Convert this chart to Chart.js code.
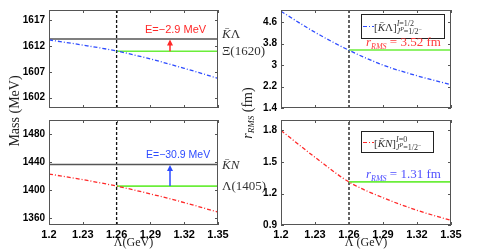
<!DOCTYPE html>
<html>
<head>
<meta charset="utf-8">
<script src="https://cdn.jsdelivr.net/npm/chart.js@4.4.0/dist/chart.umd.min.js"></script>
<style>
  body { margin: 0; background: #fff; width: 485px; height: 250px; overflow: hidden; position: relative; }
  canvas { position: absolute; }
  .ytitle { position: absolute; height: 16px; line-height: 16px; text-align: center; white-space: nowrap;
            transform: rotate(-90deg); font-family: "Liberation Serif", serif; font-size: 14px; color: #222; }
  .ytitle sub { font-size: 9px; vertical-align: -2px; }
</style>
</head>
<body>
<canvas id="tl" width="275" height="118" style="left:0;top:0"></canvas>
<canvas id="bl" width="275" height="140" style="left:0;top:110px"></canvas>
<canvas id="tr" width="245" height="118" style="left:240px;top:0"></canvas>
<canvas id="br" width="245" height="140" style="left:240px;top:110px"></canvas>
<div class="ytitle" style="left:-35px;top:103px;width:100px">Mass (MeV)</div>
<div class="ytitle" style="left:198px;top:105px;width:100px"><i>r</i><sub><i>RMS</i></sub> (fm)</div>
<script>
const cutoffs = [1.2, 1.23, 1.26, 1.29, 1.32, 1.35];
const xTicks = [1.2, 1.23, 1.26, 1.29, 1.32, 1.35];

// masses (MeV)
const massXi = [1613.2, 1612.2, 1611.05, 1609.5, 1607.7, 1605.75];
const massLam = [1422.8, 1414.8, 1405.6, 1394.4, 1382.0, 1368.4];
// rms radii (fm)
const rmsXi = [5.0, 4.22, 3.55, 3.0, 2.6, 2.27];
const rmsLam = [1.8, 1.545, 1.31, 1.16, 1.04, 0.944];

const ticksMassXi = [1602, 1607, 1612, 1617];
const ticksMassLam = [1360, 1400, 1440, 1480];
const ticksRmsXi = [1.4, 2.2, 3, 3.8, 4.6];
const ticksRmsLam = [0.9, 1.2, 1.5, 1.8];

const chosenCutoff = 1.26;
const thrKLambda = 1613.4, boundXi = 1611.0;
const thrKN = 1436.3, boundLam = 1405.6;
const rBoundXi = 3.56, rBoundLam = 1.31;

const BLUE = 'rgb(45,75,255)', RED = 'rgb(255,40,40)', GREEN = '#6bee3a', GRAY = '#555';
const SERIF = '"Liberation Serif", serif';
const DASHDOT = [4, 2, 1, 2];

function pairs(xs, ys) { return xs.map((x, i) => ({ x, y: ys[i] })); }
function line(data, color, width, dash, smooth) {
  return { data, borderColor: color, borderWidth: width, borderDash: dash || [], pointRadius: 0,
           fill: false, tension: smooth ? 0.4 : 0, cubicInterpolationMode: smooth ? 'monotone' : 'default' };
}

// draws pieces [text, italic, size, dy] one after another
function pieces(ctx, x, y, list) {
  list.forEach(([t, it, size, dy]) => {
    ctx.font = (it ? 'italic ' : '') + size + 'px ' + SERIF;
    ctx.fillText(t, x, y + (dy || 0));
    x += ctx.measureText(t).width;
  });
  return x;
}

function arrow(ctx, x, yFrom, yTo, color) {
  ctx.save();
  ctx.strokeStyle = color; ctx.fillStyle = color; ctx.lineWidth = 1.5;
  ctx.beginPath(); ctx.moveTo(x, yFrom); ctx.lineTo(x, yTo + 5); ctx.stroke();
  ctx.beginPath(); ctx.moveTo(x, yTo + 0.5); ctx.lineTo(x - 3, yTo + 6.5); ctx.lineTo(x + 3, yTo + 6.5);
  ctx.closePath(); ctx.fill();
  ctx.restore();
}

function legendBox(ctx, bx, by, bw, bh, color, main, sup) {
  ctx.save();
  ctx.fillStyle = '#fff'; ctx.fillRect(bx, by, bw, bh);
  ctx.strokeStyle = '#222'; ctx.lineWidth = 1; ctx.strokeRect(bx + 0.5, by + 0.5, bw, bh);
  const cy = Math.round(by + bh / 2) + 0.5;
  ctx.strokeStyle = color; ctx.lineWidth = 1.2; ctx.setLineDash(DASHDOT);
  ctx.beginPath(); ctx.moveTo(bx + 2, cy); ctx.lineTo(bx + 13, cy); ctx.stroke();
  ctx.setLineDash([]);
  ctx.fillStyle = '#333'; ctx.textBaseline = 'alphabetic';
  const base = cy + 4;
  const x0 = pieces(ctx, bx + 13, base, main);
  pieces(ctx, x0, base - 5, sup);
  pieces(ctx, x0, base + 3, [['J', true, 8], ['P', true, 6, -3], ['=1/2', false, 8], ['\u2212', false, 6, -3]]);
  ctx.restore();
}

function rmsText(ctx, x, base, color, value) {
  ctx.save();
  ctx.fillStyle = color; ctx.textBaseline = 'alphabetic';
  pieces(ctx, x, base, [['r', true, 13], ['RMS', true, 8, 3], [' = ' + value + ' fm', false, 13]]);
  ctx.restore();
}

function frame(yTicks, notes) {
  return {
    id: 'frame',
    afterDatasetsDraw(chart) {
      const { ctx, chartArea: a } = chart;
      const xs = chart.scales.x, ys = chart.scales.y;
      ctx.save();
      ctx.strokeStyle = '#555'; ctx.lineWidth = 1;
      ctx.beginPath();
      xTicks.forEach(v => {
        const p = Math.round(xs.getPixelForValue(v)) + 0.5;
        ctx.moveTo(p, a.top); ctx.lineTo(p, a.top + 3);
        ctx.moveTo(p, a.bottom); ctx.lineTo(p, a.bottom - 3);
      });
      yTicks.forEach(v => {
        const p = Math.round(ys.getPixelForValue(v)) + 0.5;
        ctx.moveTo(a.left, p); ctx.lineTo(a.left + 3, p);
        ctx.moveTo(a.right, p); ctx.lineTo(a.right - 3, p);
      });
      ctx.stroke();
      ctx.strokeRect(Math.round(a.left) + 0.5, Math.round(a.top) + 0.5, Math.round(a.width) - 1, Math.round(a.height) - 1);
      ctx.restore();
      notes(ctx, chart, a, xs, ys);
    }
  };
}

function panel(id, o) {
  const yMin = o.yRange[0], yMax = o.yRange[1];
  new Chart(document.getElementById(id), {
    type: 'line',
    data: {
      datasets: [
        line(pairs(cutoffs, o.curve), o.color, 1.3, DASHDOT, true),
        line(o.flat, GREEN, 1.7),
        ...(o.thr !== undefined ? [line([{ x: 1.2, y: o.thr }, { x: 1.35, y: o.thr }], GRAY, 1.5)] : []),
        line([{ x: chosenCutoff, y: yMin }, { x: chosenCutoff, y: yMax }], '#111', 1.3, [3, 2])
      ]
    },
    options: {
      responsive: false,
      animation: false,
      layout: { padding: o.padding },
      plugins: { legend: { display: false }, tooltip: { enabled: false } },
      scales: {
        x: {
          type: 'linear', min: 1.2, max: 1.35, display: o.bottom,
          grid: { display: false, drawTicks: false }, border: { display: false },
          afterBuildTicks: s => { s.ticks = xTicks.map(v => ({ value: v })); },
          afterFit: s => { s.height = o.bottom ? 25 : 0; },
          ticks: { color: '#000', padding: 3, maxRotation: 0, autoSkip: false, callback: v => String(v),
                   font: { family: '"Liberation Sans", Arial, sans-serif', weight: 'bold', size: 11 } },
          title: { display: o.bottom, text: o.xTitle, color: '#222', padding: 0,
                   font: { family: SERIF, size: 12 } }
        },
        y: {
          type: 'linear', min: yMin, max: yMax,
          grid: { display: false, drawTicks: false }, border: { display: false },
          afterBuildTicks: s => { s.ticks = o.yTicks.map(v => ({ value: v })); },
          afterFit: s => { s.width = o.yWidth; },
          ticks: { color: '#000', padding: 4, autoSkip: false, callback: v => String(v),
                   font: { family: '"Liberation Sans", Arial, sans-serif', weight: 'bold', size: 10 } }
        }
      }
    },
    plugins: [frame(o.yTicks, o.notes)]
  });
}

// top left: Xi(1620)
panel('tl', {
  curve: massXi, color: BLUE, yRange: [1600, 1619], yTicks: ticksMassXi, yWidth: 49,
  thr: thrKLambda, flat: [{ x: chosenCutoff, y: boundXi }, { x: 1.35, y: boundXi }],
  bottom: false, padding: { left: 0, right: 57, top: 5, bottom: 6 },
  notes: (ctx, chart, a, xs, ys) => {
    const ty = ys.getPixelForValue(thrKLambda), gy = ys.getPixelForValue(boundXi);
    arrow(ctx, a.left + 121, gy, ty, RED);
    ctx.save();
    ctx.fillStyle = RED; ctx.font = '11px "Liberation Sans", Arial, sans-serif';
    ctx.fillText('E=\u22122.9 MeV', a.left + 96, ty - 6);
    ctx.fillStyle = '#333'; ctx.textBaseline = 'middle';
    pieces(ctx, a.right + 4, ty - 4, [['K\u0304', true, 13], ['\u039B', false, 13]]);
    pieces(ctx, a.right + 4, gy + 0.5, [['\u039E(1620)', false, 13]]);
    ctx.restore();
  }
});

// bottom left: Lambda(1405)
panel('bl', {
  curve: massLam, color: RED, yRange: [1350, 1500], yTicks: ticksMassLam, yWidth: 49,
  thr: thrKN, flat: [{ x: chosenCutoff, y: boundLam }, { x: 1.35, y: boundLam }],
  bottom: true, xTitle: '\u039B(GeV)', padding: { left: 0, right: 57, top: 7, bottom: 0 },
  notes: (ctx, chart, a, xs, ys) => {
    const ty = ys.getPixelForValue(thrKN), gy = ys.getPixelForValue(boundLam);
    arrow(ctx, a.left + 121, gy, ty, BLUE);
    ctx.save();
    ctx.fillStyle = BLUE; ctx.font = '10.5px "Liberation Sans", Arial, sans-serif';
    ctx.fillText('E=\u221230.9 MeV', a.left + 97, ty - 7);
    ctx.fillStyle = '#333'; ctx.textBaseline = 'middle';
    pieces(ctx, a.right + 4, ty + 1, [['K\u0304', true, 13], ['N', true, 13]]);
    pieces(ctx, a.right + 4, gy + 0.5, [['\u039B(1405)', false, 13]]);
    ctx.restore();
  }
});

// top right: radius of K-bar Lambda state
panel('tr', {
  curve: rmsXi, color: BLUE, yRange: [1.4, 5.05], yTicks: ticksRmsXi, yWidth: 41,
  flat: [{ x: chosenCutoff, y: rBoundXi }, { x: 1.35, y: rBoundXi }],
  bottom: false, padding: { left: 0, right: 34, top: 5, bottom: 6 },
  notes: (ctx, chart, a, xs, ys) => {
    legendBox(ctx, a.left + 80, a.top + 4, 83, 24, BLUE,
      [['[', false, 11], ['K\u0304', true, 11], ['\u039B', false, 11], [']', false, 11]],
      [['I', true, 8], ['=1/2', false, 8]]);
    rmsText(ctx, a.left + 85, ys.getPixelForValue(rBoundXi) - 4, 'rgb(255,60,60)', '3.52');
  }
});

// bottom right: radius of K-bar N state
panel('br', {
  curve: rmsLam, color: RED, yRange: [0.9, 1.9], yTicks: ticksRmsLam, yWidth: 41,
  flat: [{ x: chosenCutoff, y: rBoundLam }, { x: 1.35, y: rBoundLam }],
  bottom: true, xTitle: '\u039B (GeV)', padding: { left: 0, right: 34, top: 7, bottom: 0 },
  notes: (ctx, chart, a, xs, ys) => {
    legendBox(ctx, a.left + 80, a.top + 11, 72, 21, RED,
      [['[', false, 11], ['K\u0304', true, 11], ['N', true, 11], [']', false, 11]],
      [['I', true, 8], ['=0', false, 8]]);
    rmsText(ctx, a.left + 85, ys.getPixelForValue(rBoundLam) - 4, 'rgb(80,80,255)', '1.31');
  }
});
</script>
</body>
</html>
